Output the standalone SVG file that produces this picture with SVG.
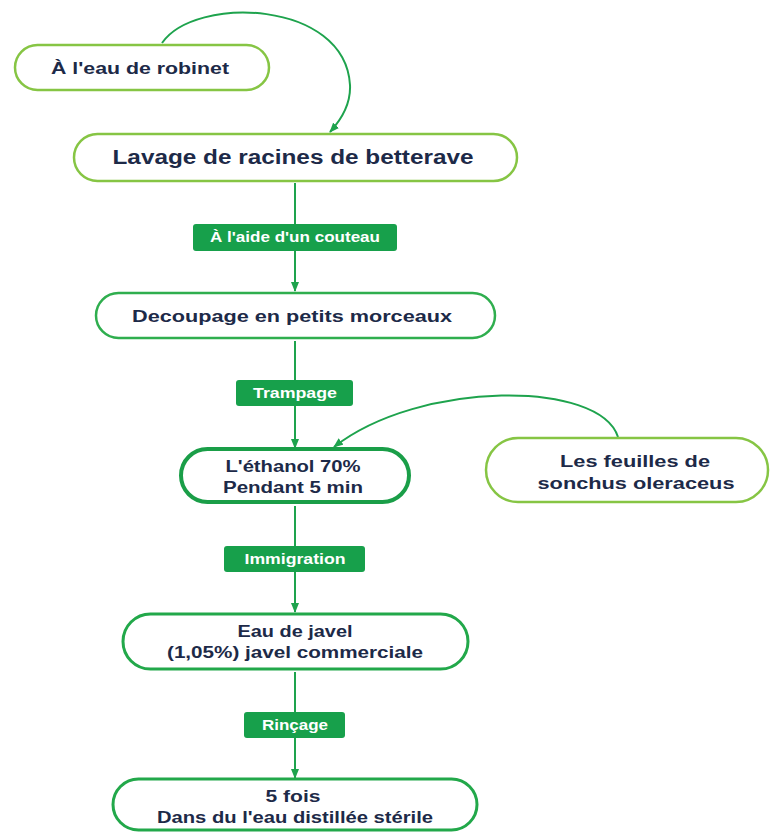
<svg xmlns="http://www.w3.org/2000/svg" width="771" height="832" viewBox="0 0 771 832">
<defs>
<marker id="arr" markerWidth="10" markerHeight="8" refX="9" refY="4" orient="auto" markerUnits="userSpaceOnUse">
<path d="M0,0 L10,4 L0,8 Z" fill="#1ea34d"/>
</marker>
<style>
.node{fill:#fff}
.t{font-family:"Liberation Sans",Arial,sans-serif;font-weight:bold;fill:#1d2a48;text-anchor:middle}
.lbl{fill:#17a04b}
.lt{font-family:"Liberation Sans",Arial,sans-serif;font-weight:bold;fill:#fff;text-anchor:middle;font-size:14px}
.c{fill:none;stroke:#1ea34d;stroke-width:2}
</style>
</defs>
<rect width="771" height="832" fill="#fff"/>
<g id="connectors">
<path class="c" d="M162,43 C195,-5 345,0 350,85 C351,105 341,120 330,132" marker-end="url(#arr)"/>
<line class="c" x1="295" y1="183" x2="295" y2="291" marker-end="url(#arr)"/>
<line class="c" x1="295" y1="341" x2="295" y2="448" marker-end="url(#arr)"/>
<path class="c" d="M618,437 C600,380 420,380 334,447" marker-end="url(#arr)"/>
<line class="c" x1="295" y1="506" x2="295" y2="612" marker-end="url(#arr)"/>
<line class="c" x1="295" y1="672" x2="295" y2="778" marker-end="url(#arr)"/>
</g>
<g id="lbl1"><rect class="lbl" x="193" y="224" width="204" height="27" rx="3"/><text class="lt" x="295" y="242" textLength="170" lengthAdjust="spacingAndGlyphs">À l'aide d'un couteau</text></g>
<g id="lbl2"><rect class="lbl" x="236" y="380" width="117" height="26" rx="3"/><text class="lt" x="295" y="398" textLength="84" lengthAdjust="spacingAndGlyphs">Trampage</text></g>
<g id="lbl3"><rect class="lbl" x="224" y="546" width="141" height="26" rx="3"/><text class="lt" x="295" y="564" textLength="101" lengthAdjust="spacingAndGlyphs">Immigration</text></g>
<g id="lbl4"><rect class="lbl" x="244" y="712" width="101" height="26" rx="3"/><text class="lt" x="295" y="730" textLength="66" lengthAdjust="spacingAndGlyphs">Rinçage</text></g>
<g id="n1"><rect class="node" x="15" y="45" width="254" height="45" rx="22.5" stroke="#86c544" stroke-width="2.5"/><text class="t" x="140" y="74" font-size="17" textLength="178" lengthAdjust="spacingAndGlyphs">À l'eau de robinet</text></g>
<g id="n2"><rect class="node" x="74" y="134" width="443" height="47" rx="23.5" stroke="#86c544" stroke-width="2.5"/><text class="t" x="293" y="164" font-size="20" textLength="361" lengthAdjust="spacingAndGlyphs">Lavage de racines de betterave</text></g>
<g id="n3"><rect class="node" x="96" y="293" width="399" height="45" rx="22.5" stroke="#2fae4e" stroke-width="2.5"/><text class="t" x="292" y="322" font-size="17" textLength="320" lengthAdjust="spacingAndGlyphs">Decoupage en petits morceaux</text></g>
<g id="n4"><rect class="node" x="181" y="449" width="228" height="53" rx="26.5" stroke="#1a9e48" stroke-width="4"/><text class="t" x="293" y="472" font-size="16" fill="#1a1a1a" textLength="135" lengthAdjust="spacingAndGlyphs">L'éthanol 70%</text><text class="t" x="293" y="493" font-size="16" textLength="140" lengthAdjust="spacingAndGlyphs">Pendant 5 min</text></g>
<g id="n5"><rect class="node" x="486" y="438" width="282" height="64" rx="32" stroke="#86c544" stroke-width="2.5"/><text class="t" x="635" y="467" font-size="17" textLength="150" lengthAdjust="spacingAndGlyphs">Les feuilles de</text><text class="t" x="636" y="489" font-size="17" textLength="197" lengthAdjust="spacingAndGlyphs">sonchus oleraceus</text></g>
<g id="n6"><rect class="node" x="123" y="614" width="345" height="55" rx="27.5" stroke="#22a84a" stroke-width="3"/><text class="t" x="295" y="637" font-size="16" textLength="115" lengthAdjust="spacingAndGlyphs">Eau de javel</text><text class="t" x="295" y="658" font-size="16" textLength="256" lengthAdjust="spacingAndGlyphs">(1,05%) javel commerciale</text></g>
<g id="n7"><rect class="node" x="113" y="779" width="364" height="51" rx="25.5" stroke="#22a84a" stroke-width="3"/><text class="t" x="293" y="802" font-size="16" textLength="55" lengthAdjust="spacingAndGlyphs">5 fois</text><text class="t" x="295" y="823" font-size="16" textLength="276" lengthAdjust="spacingAndGlyphs">Dans du l'eau distillée stérile</text></g>
</svg>
